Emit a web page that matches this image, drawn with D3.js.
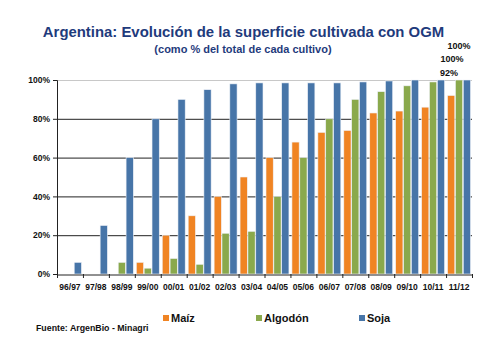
<!DOCTYPE html>
<html><head><meta charset="utf-8">
<script src="https://cdn.jsdelivr.net/npm/d3@7"></script>
<style>body{margin:0;background:#fff}svg{display:block}text{font-family:"Liberation Sans",Arial,sans-serif;font-weight:bold}</style>
</head><body><svg id="c" width="500" height="351"></svg>
<script>
const categories = ["96/97","97/98","98/99","99/00","00/01","01/02","02/03","03/04","04/05","05/06","06/07","07/08","08/09","09/10","10/11","11/12"];
const seriesNames = ["Maíz","Algodón","Soja"];
const maiz =    [null,null,null,6,20,30,40,50,60,68,73,74,83,84,86,92];
const algodon = [null,null,6,3,8,5,21,22,40,60,80,90,94,97,99,100];
const soja =    [6,25,60,80,90,95,98,98.5,98.5,98.5,98.5,99,99.5,100,100,100];
const yTicks = [0,20,40,60,80,100];
const topLabels = ["100%","100%","92%"];
const colors = ["#f08423","#8aa94c","#4775a8"];

const svg = d3.select("#c");
const x = d3.scaleBand().domain(categories).range([57,472]);
const xs = d3.scaleBand().domain(seriesNames).range([1.5, x.bandwidth()-1.5]).paddingInner(0.08);
const y = d3.scaleLinear().domain([0,100]).range([274,80]);

// title
svg.append("text").attr("x",243.5).attr("y",37).attr("text-anchor","middle")
  .attr("font-size",14.9).attr("fill","#1f3b7c").text("Argentina: Evolución de la superficie cultivada con OGM");
svg.append("text").attr("x",243).attr("y",53).attr("text-anchor","middle")
  .attr("font-size",11).attr("fill","#1f3b7c").text("(como % del total de cada cultivo)");

// gridlines
svg.append("g").selectAll("line").data(yTicks.filter(d=>d>0)).join("line")
  .attr("x1",57).attr("x2",472).attr("y1",d=>y(d)+0.5).attr("y2",d=>y(d)+0.5)
  .attr("stroke",d=>d===100?"#c8c8c8":"#222").attr("stroke-width",1);

// bars
const data = [maiz,algodon,soja];
data.forEach((arr,si)=>{
  svg.append("g").selectAll("rect").data(arr.map((v,i)=>({c:categories[i],v})).filter(d=>d.v!=null)).join("rect")
    .attr("x",d=>x(d.c)+xs(seriesNames[si]))
    .attr("width",xs.bandwidth())
    .attr("y",d=>y(d.v))
    .attr("height",d=>y(0)-y(d.v))
    .attr("fill",colors[si]).attr("stroke","#eef2f8").attr("stroke-width",0.6);
});

// y axis
const ya = svg.append("g").attr("transform","translate(57,0)")
  .call(d3.axisLeft(y).tickValues(yTicks).tickFormat(d=>d+"%").tickSize(4).tickPadding(3));
ya.select(".domain").attr("stroke","#222");
ya.selectAll(".tick line").attr("stroke","#222");
ya.selectAll("text").attr("font-size",8.5).attr("font-family","Liberation Sans, Arial, sans-serif").attr("font-weight","bold").attr("fill","#111");

// x axis
const xa = svg.append("g").attr("transform","translate(0,274.5)")
  .call(d3.axisBottom(x).tickSize(0).tickPadding(9));
xa.select(".domain").attr("stroke","#222");
xa.selectAll("text").attr("font-size",8.5).attr("font-family","Liberation Sans, Arial, sans-serif").attr("font-weight","bold").attr("fill","#111");
svg.append("g").selectAll("line").data(categories).join("line")
  .attr("x1",d=>x(d)+0.5).attr("x2",d=>x(d)+0.5).attr("y1",274).attr("y2",278).attr("stroke","#222");
svg.append("line").attr("x1",472.5).attr("x2",472.5).attr("y1",274).attr("y2",278).attr("stroke","#222");

// top value labels
const lastPos = [[459,49],[452,62],[449,76]];
topLabels.forEach((t,i)=>{
  svg.append("text").attr("x",lastPos[i][0]).attr("y",lastPos[i][1]).attr("text-anchor","middle")
    .attr("font-size",9).attr("fill","#111").text(t);
});

// legend
const legX = [163,256,359];
seriesNames.forEach((n,i)=>{
  svg.append("rect").attr("x",legX[i]).attr("y",315).attr("width",6).attr("height",6).attr("fill",colors[i]);
  svg.append("text").attr("x",legX[i]+8).attr("y",322).attr("font-size",11).attr("fill","#111").text(n);
});
svg.append("text").attr("x",36).attr("y",331).attr("font-size",8.8).attr("fill","#111").text("Fuente: ArgenBio - Minagri");
</script></body></html>
